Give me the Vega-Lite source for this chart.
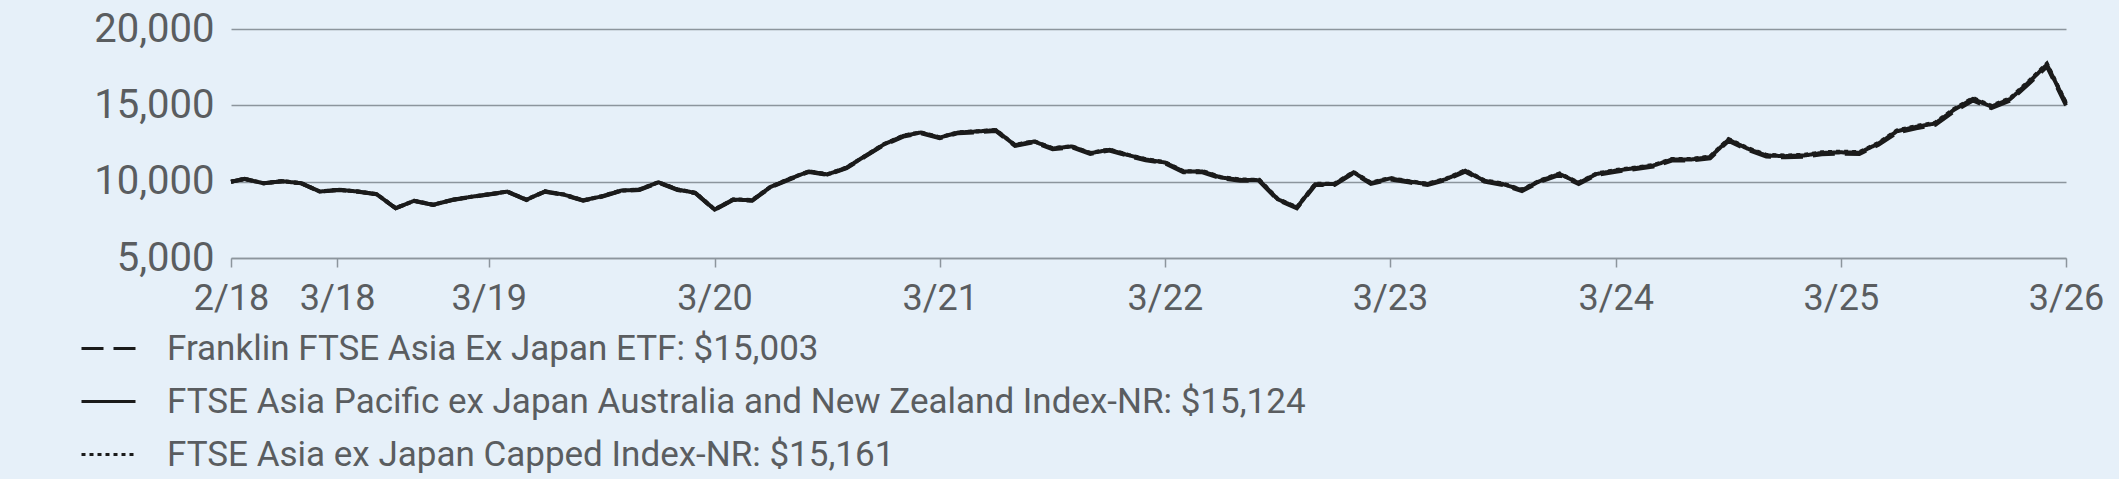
{
  "$schema": "https://vega.github.io/schema/vega-lite/v6.json",
  "width": 1835,
  "height": 229,
  "autosize": {"type": "none"},
  "padding": {"left": 231, "top": 29, "right": 53, "bottom": 221},
  "background": "#e6f0f9",
  "config": {
    "view": {"stroke": null},
    "font": "Roboto",
    "axis": {"labelFont": "Roboto", "labelColor": "#5a5d60"},
    "legend": {"labelFont": "Roboto", "labelColor": "#5a5d60"}
  },
  "data": {
    "values": [
      {"date": "2018-02-06", "etf": 10000, "ap": 10000, "cap": 10000},
      {"date": "2018-02-28", "etf": 10180, "ap": 10175, "cap": 10182},
      {"date": "2018-03-31", "etf": 9890, "ap": 9894, "cap": 9899},
      {"date": "2018-04-30", "etf": 10025, "ap": 10031, "cap": 10034},
      {"date": "2018-05-31", "etf": 9890, "ap": 9898, "cap": 9902},
      {"date": "2018-06-30", "etf": 9345, "ap": 9352, "cap": 9358},
      {"date": "2018-07-31", "etf": 9455, "ap": 9465, "cap": 9470},
      {"date": "2018-08-31", "etf": 9345, "ap": 9352, "cap": 9360},
      {"date": "2018-09-30", "etf": 9170, "ap": 9181, "cap": 9186},
      {"date": "2018-10-31", "etf": 8255, "ap": 8262, "cap": 8270},
      {"date": "2018-11-30", "etf": 8735, "ap": 8748, "cap": 8752},
      {"date": "2018-12-31", "etf": 8470, "ap": 8482, "cap": 8489},
      {"date": "2019-01-31", "etf": 8800, "ap": 8814, "cap": 8820},
      {"date": "2019-02-28", "etf": 8980, "ap": 8994, "cap": 9001},
      {"date": "2019-03-31", "etf": 9155, "ap": 9170, "cap": 9178},
      {"date": "2019-04-30", "etf": 9330, "ap": 9347, "cap": 9353},
      {"date": "2019-05-31", "etf": 8800, "ap": 8815, "cap": 8824},
      {"date": "2019-06-30", "etf": 9345, "ap": 9362, "cap": 9370},
      {"date": "2019-07-31", "etf": 9130, "ap": 9150, "cap": 9157},
      {"date": "2019-08-31", "etf": 8755, "ap": 8773, "cap": 8782},
      {"date": "2019-09-30", "etf": 9015, "ap": 9036, "cap": 9043},
      {"date": "2019-10-31", "etf": 9390, "ap": 9412, "cap": 9420},
      {"date": "2019-11-30", "etf": 9455, "ap": 9478, "cap": 9487},
      {"date": "2019-12-31", "etf": 9935, "ap": 9960, "cap": 9968},
      {"date": "2020-01-31", "etf": 9455, "ap": 9480, "cap": 9490},
      {"date": "2020-02-29", "etf": 9240, "ap": 9266, "cap": 9275},
      {"date": "2020-03-31", "etf": 8145, "ap": 8170, "cap": 8182},
      {"date": "2020-04-30", "etf": 8800, "ap": 8828, "cap": 8838},
      {"date": "2020-05-31", "etf": 8755, "ap": 8783, "cap": 8795},
      {"date": "2020-06-30", "etf": 9630, "ap": 9661, "cap": 9672},
      {"date": "2020-07-31", "etf": 10155, "ap": 10188, "cap": 10199},
      {"date": "2020-08-31", "etf": 10635, "ap": 10670, "cap": 10681},
      {"date": "2020-09-30", "etf": 10440, "ap": 10474, "cap": 10487},
      {"date": "2020-10-31", "etf": 10880, "ap": 10917, "cap": 10929},
      {"date": "2020-11-30", "etf": 11640, "ap": 11680, "cap": 11692},
      {"date": "2020-12-31", "etf": 12410, "ap": 12452, "cap": 12465},
      {"date": "2021-01-31", "etf": 12955, "ap": 12998, "cap": 13012},
      {"date": "2021-02-28", "etf": 13175, "ap": 13220, "cap": 13233},
      {"date": "2021-03-31", "etf": 12845, "ap": 12889, "cap": 12904},
      {"date": "2021-04-30", "etf": 13175, "ap": 13222, "cap": 13236},
      {"date": "2021-05-31", "etf": 13240, "ap": 13288, "cap": 13303},
      {"date": "2021-06-30", "etf": 13325, "ap": 13374, "cap": 13390},
      {"date": "2021-07-31", "etf": 12340, "ap": 12387, "cap": 12404},
      {"date": "2021-08-31", "etf": 12585, "ap": 12634, "cap": 12651},
      {"date": "2021-09-30", "etf": 12125, "ap": 12174, "cap": 12192},
      {"date": "2021-10-31", "etf": 12255, "ap": 12306, "cap": 12324},
      {"date": "2021-11-30", "etf": 11815, "ap": 11865, "cap": 11884},
      {"date": "2021-12-31", "etf": 12035, "ap": 12087, "cap": 12106},
      {"date": "2022-01-31", "etf": 11685, "ap": 11736, "cap": 11756},
      {"date": "2022-02-28", "etf": 11400, "ap": 11452, "cap": 11472},
      {"date": "2022-03-31", "etf": 11205, "ap": 11258, "cap": 11279},
      {"date": "2022-04-30", "etf": 10615, "ap": 10666, "cap": 10688},
      {"date": "2022-05-31", "etf": 10615, "ap": 10668, "cap": 10690},
      {"date": "2022-06-30", "etf": 10220, "ap": 10272, "cap": 10295},
      {"date": "2022-07-31", "etf": 10065, "ap": 10118, "cap": 10142},
      {"date": "2022-08-31", "etf": 10045, "ap": 10099, "cap": 10123},
      {"date": "2022-09-30", "etf": 8800, "ap": 8850, "cap": 8873},
      {"date": "2022-10-31", "etf": 8255, "ap": 8303, "cap": 8327},
      {"date": "2022-11-30", "etf": 9785, "ap": 9838, "cap": 9864},
      {"date": "2022-12-31", "etf": 9785, "ap": 9840, "cap": 9866},
      {"date": "2023-01-31", "etf": 10550, "ap": 10608, "cap": 10635},
      {"date": "2023-02-28", "etf": 9850, "ap": 9905, "cap": 9932},
      {"date": "2023-03-31", "etf": 10155, "ap": 10212, "cap": 10240},
      {"date": "2023-04-30", "etf": 9955, "ap": 10012, "cap": 10040},
      {"date": "2023-05-31", "etf": 9785, "ap": 9842, "cap": 9870},
      {"date": "2023-06-30", "etf": 10110, "ap": 10169, "cap": 10198},
      {"date": "2023-07-31", "etf": 10655, "ap": 10717, "cap": 10747},
      {"date": "2023-08-31", "etf": 10000, "ap": 10059, "cap": 10089},
      {"date": "2023-09-30", "etf": 9785, "ap": 9844, "cap": 9874},
      {"date": "2023-10-31", "etf": 9390, "ap": 9447, "cap": 9477},
      {"date": "2023-11-30", "etf": 10000, "ap": 10061, "cap": 10092},
      {"date": "2023-12-31", "etf": 10440, "ap": 10504, "cap": 10536},
      {"date": "2024-01-31", "etf": 9850, "ap": 9911, "cap": 9943},
      {"date": "2024-02-29", "etf": 10440, "ap": 10505, "cap": 10538},
      {"date": "2024-03-31", "etf": 10655, "ap": 10722, "cap": 10756},
      {"date": "2024-04-30", "etf": 10810, "ap": 10878, "cap": 10913},
      {"date": "2024-05-31", "etf": 10985, "ap": 11055, "cap": 11091},
      {"date": "2024-06-30", "etf": 11380, "ap": 11452, "cap": 11489},
      {"date": "2024-07-31", "etf": 11380, "ap": 11453, "cap": 11491},
      {"date": "2024-08-31", "etf": 11535, "ap": 11610, "cap": 11649},
      {"date": "2024-09-30", "etf": 12670, "ap": 12750, "cap": 12792},
      {"date": "2024-10-31", "etf": 12080, "ap": 12158, "cap": 12199},
      {"date": "2024-11-30", "etf": 11640, "ap": 11716, "cap": 11756},
      {"date": "2024-12-31", "etf": 11595, "ap": 11672, "cap": 11713},
      {"date": "2025-01-31", "etf": 11640, "ap": 11718, "cap": 11760},
      {"date": "2025-02-28", "etf": 11800, "ap": 11880, "cap": 11923},
      {"date": "2025-03-31", "etf": 11840, "ap": 11921, "cap": 11965},
      {"date": "2025-04-30", "etf": 11815, "ap": 11897, "cap": 11941},
      {"date": "2025-05-31", "etf": 12410, "ap": 12496, "cap": 12542},
      {"date": "2025-06-30", "etf": 13215, "ap": 13305, "cap": 13354},
      {"date": "2025-07-31", "etf": 13500, "ap": 13592, "cap": 13643},
      {"date": "2025-08-31", "etf": 13720, "ap": 13814, "cap": 13866},
      {"date": "2025-09-30", "etf": 14595, "ap": 14694, "cap": 14749},
      {"date": "2025-10-31", "etf": 15320, "ap": 15424, "cap": 15482},
      {"date": "2025-11-30", "etf": 14815, "ap": 14917, "cap": 14973},
      {"date": "2025-12-31", "etf": 15320, "ap": 15425, "cap": 15484},
      {"date": "2026-01-31", "etf": 16455, "ap": 16567, "cap": 16630},
      {"date": "2026-02-28", "etf": 17545, "ap": 17664, "cap": 17731},
      {"date": "2026-03-31", "etf": 15003, "ap": 15124, "cap": 15161}
    ]
  },
  "transform": [{"fold": ["etf", "ap", "cap"], "as": ["series", "value"]}],
  "mark": {"type": "line", "strokeWidth": 4, "color": "#1b1b1b", "strokeCap": "butt", "strokeJoin": "miter"},
  "encoding": {
    "x": {
      "field": "date",
      "type": "temporal",
      "scale": {
        "type": "utc",
        "domain": [
          {"year": 2018, "month": 2, "date": 6, "utc": true},
          {"year": 2026, "month": 3, "date": 31, "utc": true}
        ],
        "nice": false
      },
      "axis": {
        "title": null,
        "values": [
          {"year": 2018, "month": 2, "date": 6, "utc": true},
          {"year": 2018, "month": 7, "date": 28, "utc": true},
          {"year": 2019, "month": 3, "date": 31, "utc": true},
          {"year": 2020, "month": 3, "date": 31, "utc": true},
          {"year": 2021, "month": 3, "date": 31, "utc": true},
          {"year": 2022, "month": 3, "date": 31, "utc": true},
          {"year": 2023, "month": 3, "date": 31, "utc": true},
          {"year": 2024, "month": 3, "date": 31, "utc": true},
          {"year": 2025, "month": 3, "date": 31, "utc": true},
          {"year": 2026, "month": 3, "date": 31, "utc": true}
        ],
        "labelExpr": "utcmonth(datum.value) == 6 ? '3/18' : utcFormat(datum.value, '%-m/%y')",
        "grid": false,
        "domain": true,
        "domainColor": "#8c959d",
        "domainWidth": 1.5,
        "ticks": true,
        "tickColor": "#8c959d",
        "tickWidth": 1.5,
        "tickSize": 9,
        "labelFontSize": 36,
        "labelPadding": 14,
        "labelFlush": false,
        "labelOverlap": false
      }
    },
    "y": {
      "field": "value",
      "type": "quantitative",
      "scale": {"domain": [5000, 20000], "nice": false, "zero": false},
      "axis": {
        "title": null,
        "values": [5000, 10000, 15000, 20000],
        "format": ",.0f",
        "grid": true,
        "gridColor": "#8c959d",
        "gridWidth": 1.5,
        "domain": false,
        "ticks": false,
        "labelFontSize": 40,
        "labelPadding": 17
      }
    },
    "strokeDash": {
      "field": "series",
      "type": "nominal",
      "scale": {"domain": ["etf", "ap", "cap"], "range": [[22, 10], [1, 0], [4, 4]]},
      "legend": {
        "title": null,
        "orient": "none",
        "legendX": -151,
        "legendY": 291,
        "direction": "vertical",
        "padding": 0,
        "symbolType": "stroke",
        "symbolSize": 2916,
        "symbolStrokeWidth": 3,
        "symbolStrokeColor": "#1b1b1b",
        "labelFontSize": 35,
        "labelOffset": 30,
        "rowPadding": 6,
        "labelLimit": 2000,
        "labelExpr": "datum.value == 'etf' ? 'Franklin FTSE Asia Ex Japan ETF: $15,003' : datum.value == 'ap' ? 'FTSE Asia Pacific ex Japan Australia and New Zealand Index-NR: $15,124' : 'FTSE Asia ex Japan Capped Index-NR: $15,161'"
      }
    }
  }
}
